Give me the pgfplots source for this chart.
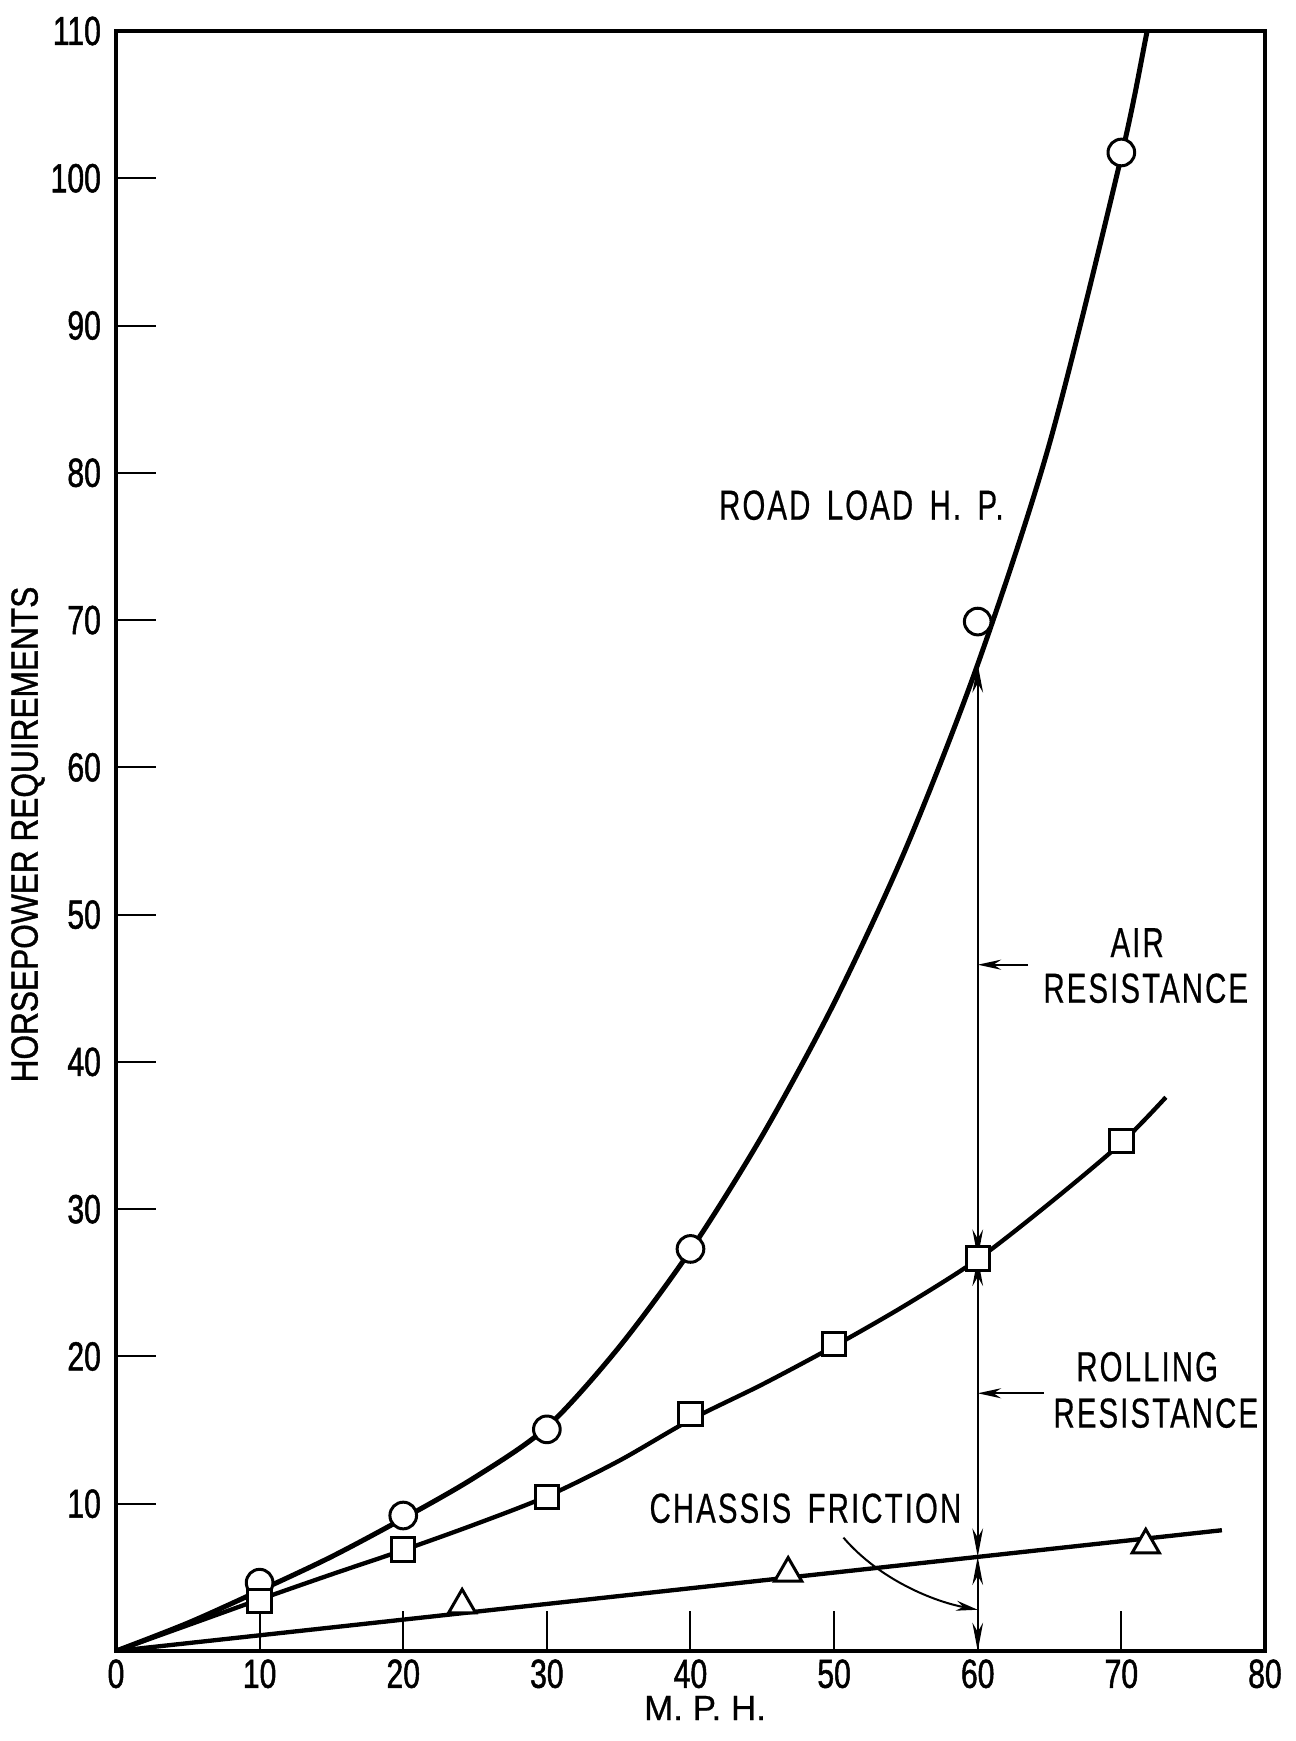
\documentclass[border=0pt]{standalone}
\usepackage{fontspec}
\setmainfont{Liberation Sans}
\newfontfamily\tickfont{Liberation Sans}[FakeStretch=0.74,FakeBold=1.2]
\newfontfamily\annfont{Liberation Sans}[FakeStretch=0.70,LetterSpace=5,WordSpace=1.6,FakeBold=0.5]
\newfontfamily\ylabfont{Liberation Sans}[FakeStretch=0.84,FakeBold=1.0]
\newfontfamily\xlabfont{Liberation Sans}[FakeBold=0.6]
\usepackage{pgfplots}
\pgfplotsset{compat=1.18}
\usetikzlibrary{arrows.meta}
\begin{document}
\begin{tikzpicture}
\begin{axis}[
  at={(0,0)}, anchor=south west,
  scale only axis, width=344.7pt, height=486pt,
  xmin=0, xmax=80, ymin=0, ymax=110,
  xtick={0,10,...,80}, ytick={10,20,...,110},
  tick align=inside, xtick pos=left, ytick pos=left,
  major tick length=12pt,
  every tick/.style={black, line width=0.6pt},
  axis line style={line width=1.1pt},
  /pgf/number format/assume math mode=true,
  tick label style={font=\fontsize{12.2}{13}\tickfont},
  xticklabel style={yshift=1pt},
  yticklabel style={xshift=-1pt},
  xlabel={M. P. H.},
  xlabel style={at={(axis description cs:0.5127,-0.0352)}, anchor=center, font=\fontsize{10.5}{11}\xlabfont},
  ylabel={HORSEPOWER REQUIREMENTS},
  ylabel style={at={(axis description cs:-0.0766,0.504)}, anchor=center, font=\fontsize{11.3}{12}\ylabfont},
]
% road load curve
\addplot[line width=1.5pt, smooth, black] coordinates {
 (0,0) (5,1.9) (10,4.1) (15,6.4) (20,9.0) (25,11.8) (30,15.2) (35,20.6)
 (40,27.2) (45,35.0) (50,44.0) (55,54.5) (60,67) (65,82) (70,101.5) (71.8,110) (72.5,113)
};
% rolling + chassis curve
\addplot[line width=1.3pt, smooth, black] coordinates {
 (0,0) (5,1.75) (10,3.5) (15,5.2) (20,6.85) (25,8.6) (30,10.5) (35,12.9)
 (40,15.7) (45,18.1) (50,20.7) (55,23.5) (60,26.6) (65,30.4) (70,34.5) (73.1,37.6)
};
% chassis friction line
\addplot[line width=1.3pt, black] coordinates {(0,0) (77,8.2)};
% markers
\addplot[only marks, mark=*, mark size=4pt, mark options={draw=black, fill=white, line width=0.9pt}] coordinates {
 (10,4.64) (20,9.2) (30,15.05) (40,27.3) (60,69.9) (70,101.75)
};
\addplot[only marks, mark=square*, mark size=3.5pt, mark options={draw=black, fill=white, line width=0.9pt}] coordinates {
 (10,3.4) (20,6.9) (30,10.45) (40,16.1) (50,20.86) (60,26.66) (70,34.65)
};
\addplot[only marks, mark=triangle*, mark size=4.7pt, mark options={draw=black, fill=white, line width=0.9pt}] coordinates {
 (24.1,3.12) (46.8,5.28) (71.7,7.2)
};
% dimension arrows at 60 mph
\draw[line width=0.6pt, {Stealth[length=8.5pt,width=3.2pt]}-{Stealth[length=8.5pt,width=3.2pt]}] (axis cs:60,0) -- (axis cs:60,6.4);
\draw[line width=0.6pt, {Stealth[length=8.5pt,width=3.2pt]}-{Stealth[length=8.5pt,width=3.2pt]}] (axis cs:60,6.4) -- (axis cs:60,26.7);
\draw[line width=0.6pt, {Stealth[length=8.5pt,width=3.2pt]}-{Stealth[length=8.5pt,width=3.2pt]}] (axis cs:60,26.7) -- (axis cs:60,67);
\draw[line width=0.7pt, -{Stealth[length=7pt,width=3pt]}] (axis cs:63.5,46.6) -- (axis cs:60,46.6);
\draw[line width=0.7pt, -{Stealth[length=7pt,width=3pt]}] (axis cs:64.6,17.5) -- (axis cs:60,17.5);
\draw[line width=0.6pt, -{Stealth[length=6.5pt,width=3pt]}] (axis cs:50.65,7.7) .. controls (axis cs:53.2,4.8) and (axis cs:57,3.35) .. (axis cs:60,2.8);
% labels
\node[font=\fontsize{12.6}{13}\annfont] at (axis cs:51.9,77.8) {ROAD LOAD H. P.};
\node[font=\fontsize{12.6}{13}\annfont] at (axis cs:71.1,48.1) {AIR};
\node[font=\fontsize{12.6}{13}\annfont] at (axis cs:71.7,45.0) {RESISTANCE};
\node[font=\fontsize{12.6}{13}\annfont] at (axis cs:71.8,19.3) {ROLLING};
\node[font=\fontsize{12.6}{13}\annfont] at (axis cs:72.4,16.15) {RESISTANCE};
\node[font=\fontsize{12.6}{13}\annfont] at (axis cs:48.0,9.69) {CHASSIS FRICTION};
\end{axis}
\pgfresetboundingbox
\useasboundingbox (-34.8pt,-27pt) rectangle (353.7pt,495.3pt);
\end{tikzpicture}
\end{document}
